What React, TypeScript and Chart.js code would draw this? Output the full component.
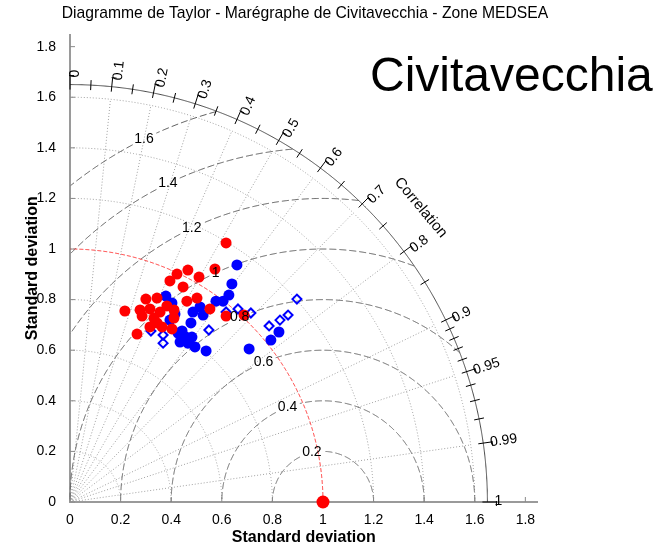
import { useEffect, useRef } from 'react';
import { Chart, registerables } from 'chart.js';

Chart.register(...registerables);

const FONT = '"Liberation Sans", Arial, Helvetica, sans-serif';

const TITLE = 'Diagramme de Taylor - Marégraphe de Civitavecchia - Zone MEDSEA';
const STATION = 'Civitavecchia';
const AXIS_TITLE = 'Standard deviation';
const CORR_TITLE = 'Correlation';

// Normalised standard deviation axes
const AXIS_MAX = 1.848;
const SD_MAX = 1.65; // radius of the correlation arc
const SD_GRID = [0.2, 0.4, 0.6, 0.8, 1.2, 1.4, 1.6];
const SD_REF = 1;
const RMS_LEVELS = [0.2, 0.4, 0.6, 0.8, 1, 1.2, 1.4, 1.6];

// Correlation axis
const CORR_GRID = [0.1, 0.2, 0.3, 0.4, 0.5, 0.6, 0.7, 0.8, 0.9, 0.95, 0.99];
const CORR_LABELS = [0, 0.1, 0.2, 0.3, 0.4, 0.5, 0.6, 0.7, 0.8, 0.9, 0.95, 0.99, 1];
const CORR_MINOR = [
  0.05, 0.15, 0.25, 0.35, 0.45, 0.55, 0.65, 0.75, 0.85,
  0.91, 0.92, 0.93, 0.94, 0.96, 0.97, 0.98,
];

// Observation (reference) point
const REFERENCE: [number, number][] = [[1, 0]];

// Model points, [x, y] in standard-deviation units
const RED_POINTS: [number, number][] = [
  [0.617, 1.024], [0.573, 0.921], [0.466, 0.917], [0.423, 0.901], [0.395, 0.874],
  [0.510, 0.889], [0.447, 0.850], [0.502, 0.806], [0.462, 0.794], [0.553, 0.763],
  [0.617, 0.735], [0.688, 0.739], [0.300, 0.802], [0.344, 0.806], [0.217, 0.755],
  [0.277, 0.759], [0.316, 0.763], [0.383, 0.775], [0.411, 0.759], [0.411, 0.727],
  [0.285, 0.735], [0.332, 0.727], [0.344, 0.708], [0.316, 0.692], [0.364, 0.692],
  [0.403, 0.684], [0.265, 0.664], [0.356, 0.751],
];

const BLUE_POINTS: [number, number][] = [
  [0.660, 0.937], [0.640, 0.862], [0.628, 0.818], [0.605, 0.794], [0.577, 0.794],
  [0.514, 0.771], [0.526, 0.739], [0.486, 0.751], [0.478, 0.708], [0.379, 0.814],
  [0.403, 0.787], [0.395, 0.719], [0.415, 0.743], [0.443, 0.676], [0.458, 0.652],
  [0.482, 0.652], [0.435, 0.632], [0.466, 0.628], [0.494, 0.613], [0.538, 0.597],
  [0.708, 0.605], [0.794, 0.640], [0.826, 0.672], [0.427, 0.668],
];

const BLUE_DIAMONDS: [number, number][] = [
  [0.897, 0.802], [0.664, 0.763], [0.715, 0.747], [0.862, 0.739], [0.830, 0.719],
  [0.787, 0.696], [0.549, 0.680], [0.368, 0.660], [0.368, 0.628], [0.320, 0.676],
  [0.617, 0.751],
];

// Line along which the RMS contour labels sit (two points, sd units)
const RMS_LABEL_LINE: [[number, number], [number, number]] = [[0.9486, 0.2095], [0.2885, 1.4427]];
const CORR_TITLE_POS = { r: 1.81, deg: 40 };

const toXY = (pts: [number, number][]) => pts.map(([x, y]) => ({ x, y }));
const fmt = (v: number) => String(+v.toFixed(2));

type Pt = [number, number] | null;

function strokePath(ctx: CanvasRenderingContext2D, pts: Pt[]) {
  ctx.beginPath();
  let pen = false;
  for (const p of pts) {
    if (!p) { pen = false; continue; }
    if (pen) ctx.lineTo(p[0], p[1]);
    else ctx.moveTo(p[0], p[1]);
    pen = true;
  }
  ctx.stroke();
}

function rmsLabelPoint(r: number): [number, number] {
  const [a, b] = RMS_LABEL_LINE;
  const dx = b[0] - a[0], dy = b[1] - a[1];
  const ex = a[0] - 1, ey = a[1];
  const A = dx * dx + dy * dy;
  const B = 2 * (ex * dx + ey * dy);
  const C = ex * ex + ey * ey - r * r;
  const t = (-B + Math.sqrt(B * B - 4 * A * C)) / (2 * A);
  return [a[0] + t * dx, a[1] + t * dy];
}

const taylorPlugin = {
  id: 'taylorGrid',
  beforeDatasetsDraw(chart: any) {
    const { ctx } = chart;
    const sx = chart.scales.x, sy = chart.scales.y;
    const X = (v: number) => sx.getPixelForValue(v);
    const Y = (v: number) => sy.getPixelForValue(v);
    const N = 600;
    ctx.save();

    // standard-deviation arcs (dotted)
    ctx.strokeStyle = '#a0a0a0';
    ctx.lineWidth = 1;
    ctx.setLineDash([1, 2]);
    for (const r of SD_GRID) {
      const pts: Pt[] = [];
      for (let i = 0; i <= N; i++) {
        const a = (i / N) * Math.PI / 2;
        pts.push([X(r * Math.cos(a)), Y(r * Math.sin(a))]);
      }
      strokePath(ctx, pts);
    }
    // correlation rays (dotted)
    for (const c of CORR_GRID) {
      const s = Math.sqrt(1 - c * c);
      const r = SD_GRID[SD_GRID.length - 1];
      strokePath(ctx, [[X(0), Y(0)], [X(r * c), Y(r * s)]]);
    }

    // centred RMS difference arcs (dashed, broken at their labels)
    ctx.font = `14px ${FONT}`;
    ctx.strokeStyle = '#5a5a5a';
    ctx.setLineDash([7, 3]);
    for (const r of RMS_LEVELS) {
      const [lx, ly] = rmsLabelPoint(r);
      const lpx = X(lx), lpy = Y(ly);
      const gap = ctx.measureText(fmt(r)).width / 2 + 3;
      const pts: Pt[] = [];
      for (let i = 0; i <= N * 2; i++) {
        const a = (i / (N * 2)) * Math.PI;
        const x = 1 + r * Math.cos(a), y = r * Math.sin(a);
        const inside = x >= 0 && y >= 0 && x * x + y * y <= SD_MAX * SD_MAX;
        const p: [number, number] = [X(x), Y(y)];
        const nearLabel = Math.hypot(p[0] - lpx, p[1] - lpy) < gap;
        pts.push(inside && !nearLabel ? p : null);
      }
      strokePath(ctx, pts);
    }

    // reference standard deviation (red dashed)
    ctx.strokeStyle = '#ff2020';
    ctx.lineWidth = 0.9;
    ctx.setLineDash([4, 2]);
    {
      const pts: Pt[] = [];
      for (let i = 0; i <= N; i++) {
        const a = (i / N) * Math.PI / 2;
        pts.push([X(SD_REF * Math.cos(a)), Y(SD_REF * Math.sin(a))]);
      }
      strokePath(ctx, pts);
    }

    // correlation axis arc
    ctx.setLineDash([]);
    ctx.lineWidth = 1;
    ctx.strokeStyle = '#4a4a4a';
    {
      const pts: Pt[] = [];
      for (let i = 0; i <= N; i++) {
        const a = (i / N) * Math.PI / 2;
        pts.push([X(SD_MAX * Math.cos(a)), Y(SD_MAX * Math.sin(a))]);
      }
      strokePath(ctx, pts);
    }

    // correlation ticks and labels
    ctx.strokeStyle = '#000';
    ctx.fillStyle = '#000';
    const tick = (c: number, inner: number, outer: number, label: boolean) => {
      const s = Math.sqrt(Math.max(0, 1 - c * c));
      const ux = c, uy = -s; // outward direction in pixels
      const tx = s, ty = c; // clockwise tangent
      const px = X(SD_MAX * c), py = Y(SD_MAX * s);
      strokePath(ctx, [[px - ux * inner, py - uy * inner], [px + ux * outer, py + uy * outer]]);
      if (label) {
        const ox = px + ux * outer, oy = py + uy * outer;
        strokePath(ctx, [[ox - tx * 1, oy - ty * 1], [ox + tx * 4, oy + ty * 4]]);
        ctx.save();
        ctx.translate(px, py);
        ctx.rotate(-Math.atan2(s, c));
        ctx.font = `14px ${FONT}`;
        ctx.textAlign = 'left';
        ctx.textBaseline = 'middle';
        ctx.fillText(fmt(c), 7, 6 * s - 0.5);
        ctx.restore();
      }
    };
    for (const c of CORR_MINOR) tick(c, 5, 5, false);
    for (const c of CORR_LABELS) tick(c, 5, 9, true);

    // inward ticks on the two straight axes
    ctx.strokeStyle = '#8a8a8a';
    for (const v of sx.ticks.map((t: any) => t.value)) {
      strokePath(ctx, [[X(v), Y(0)], [X(v), Y(0) - 5]]);
    }
    for (const v of sy.ticks.map((t: any) => t.value)) {
      strokePath(ctx, [[X(0), Y(v)], [X(0) + 5, Y(v)]]);
    }
    ctx.restore();
  },
  afterDatasetsDraw(chart: any) {
    const { ctx } = chart;
    const sx = chart.scales.x, sy = chart.scales.y;
    const X = (v: number) => sx.getPixelForValue(v);
    const Y = (v: number) => sy.getPixelForValue(v);
    ctx.save();
    ctx.fillStyle = '#000';
    ctx.font = `14px ${FONT}`;
    ctx.textAlign = 'center';
    ctx.textBaseline = 'middle';
    for (const r of RMS_LEVELS) {
      const [lx, ly] = rmsLabelPoint(r);
      ctx.fillText(fmt(r), X(lx), Y(ly));
    }

    // correlation axis title
    const a = (CORR_TITLE_POS.deg * Math.PI) / 180;
    ctx.save();
    ctx.translate(X(CORR_TITLE_POS.r * Math.cos(a)), Y(CORR_TITLE_POS.r * Math.sin(a)));
    ctx.rotate(Math.PI / 2 - a);
    ctx.font = `15px ${FONT}`;
    ctx.fillText(CORR_TITLE, 0, 0);
    ctx.restore();

    // title, axis titles, station name
    const area = chart.chartArea;
    const midX = (area.left + area.right) / 2;
    const midY = (area.top + area.bottom) / 2;
    ctx.font = `15.7px ${FONT}`;
    ctx.fillText(TITLE, 305, 14);

    ctx.font = `bold 16px ${FONT}`;
    ctx.fillText(AXIS_TITLE, midX, 538);
    ctx.save();
    ctx.translate(33, midY);
    ctx.rotate(-Math.PI / 2);
    ctx.fillText(AXIS_TITLE, 0, 0);
    ctx.restore();

    ctx.font = `48px ${FONT}`;
    ctx.textAlign = 'left';
    ctx.textBaseline = 'alphabetic';
    ctx.fillText(STATION, 370, 91);
    ctx.restore();
  },
};

export default function App() {
  const canvasRef = useRef<HTMLCanvasElement>(null);

  useEffect(() => {
    const canvas = canvasRef.current;
    if (!canvas) return;
    Chart.defaults.font.family = FONT;
    Chart.defaults.color = '#000';

    const axis = (pos: 'bottom' | 'left') => ({
      type: 'linear' as const,
      position: pos,
      min: 0,
      max: AXIS_MAX,
      grid: { display: false },
      border: { display: true, color: '#9a9a9a', width: 2 },
      ticks: {
        stepSize: 0.2,
        includeBounds: false,
        autoSkip: false,
        maxRotation: 0,
        padding: pos === 'bottom' ? 2 : 6,
        color: '#000',
        font: { size: 14, family: FONT },
        callback: (v: any) => fmt(Number(v)),
      },
      afterFit: (scale: any) => {
        if (pos === 'bottom') scale.height = 43;
        else scale.width = 70;
      },
    });

    const chart = new Chart(canvas, {
      type: 'scatter',
      data: {
        datasets: [
          {
            label: 'Reference',
            data: toXY(REFERENCE),
            pointStyle: 'circle',
            pointRadius: 6.5,
            backgroundColor: '#ff0000',
            borderWidth: 0,
            clip: false,
          },
          {
            label: 'Red',
            data: toXY(RED_POINTS),
            pointStyle: 'circle',
            pointRadius: 5.5,
            backgroundColor: '#ff0000',
            borderWidth: 0,
            clip: false,
          },
          {
            label: 'Blue diamonds',
            data: toXY(BLUE_DIAMONDS),
            pointStyle: 'rectRot',
            pointRadius: 4.5,
            backgroundColor: 'rgba(255,255,255,0)',
            borderColor: '#0000ff',
            borderWidth: 2,
            clip: false,
          },
          {
            label: 'Blue',
            data: toXY(BLUE_POINTS),
            pointStyle: 'circle',
            pointRadius: 5.5,
            backgroundColor: '#0000ff',
            borderWidth: 0,
            clip: false,
          },
        ],
      },
      options: {
        animation: false,
        responsive: false,
        devicePixelRatio: 1,
        events: [],
        layout: { padding: { left: 0, top: 34.5, right: 128.5, bottom: 0 } },
        plugins: { legend: { display: false }, tooltip: { enabled: false }, title: { display: false } },
        scales: { x: axis('bottom'), y: axis('left') } as any,
      },
      plugins: [taylorPlugin],
    });
    return () => chart.destroy();
  }, []);

  return (
    <div style={{ position: 'fixed', left: 0, top: 0, width: 666, height: 545, background: '#fff' }}>
      <canvas ref={canvasRef} width={666} height={545} style={{ display: 'block', width: 666, height: 545 }} />
    </div>
  );
}
